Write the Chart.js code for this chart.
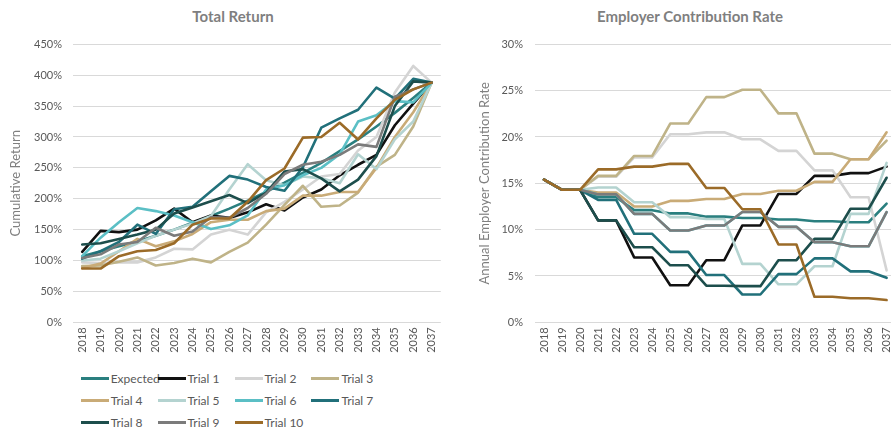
<!DOCTYPE html>
<html>
<head>
<meta charset="utf-8">
<script src="https://cdn.jsdelivr.net/npm/chart.js@4.4.1/dist/chart.umd.min.js"></script>
<style>
  body { margin: 0; width: 891px; height: 431px; overflow: hidden; background: #fff; position: relative; font-family: Lato, "Open Sans", sans-serif; }
  #leftBox { position: absolute; left: 0; top: 0; width: 450px; height: 365px; }
  #rightBox { position: absolute; left: 445px; top: 0; width: 460px; height: 365px; }
  .ttl { position: absolute; top: 7px; font-weight: bold; font-size: 15px; color: #7f7f7f; transform: translateX(-50%); white-space: nowrap; }
  .item { position: absolute; height: 16px; display: flex; align-items: center; font-size: 12px; color: #595959; white-space: nowrap; }
  .item .sw { display: inline-block; width: 28px; height: 3px; margin-right: 2px; }
</style>
</head>
<body>
<div class="ttl" style="left:233px">Total Return</div>
<div class="ttl" style="left:690px">Employer Contribution Rate</div>
<div id="leftBox"><canvas id="returnChart"></canvas></div>
<div id="rightBox"><canvas id="rateChart"></canvas></div>
<div id="legend"></div>
<script>
var years = ["2018","2019","2020","2021","2022","2023","2024","2025","2026","2027",
             "2028","2029","2030","2031","2032","2033","2034","2035","2036","2037"];
var seriesNames = ["Expected","Trial 1","Trial 2","Trial 3","Trial 4","Trial 5",
                   "Trial 6","Trial 7","Trial 8","Trial 9","Trial 10"];
var seriesColors = ["#2a7f7f","#111111","#d4d4d4","#bfb388","#c9ab77","#b4d3d0",
                    "#5bbfc5","#21707a","#1d4e4c","#7b7b7b","#9b6b28"];

// cumulative return, %
var expectedReturn = [107,115,123,131,140,150,161,172,184,197,211,226,242,258,277,296,317,339,363,388];
var trial1Return  = [114,148,146,150,165,184,162,173,169,178,191,181,202,215,238,255,271,319,354,388];
var trial2Return  = [97,96,97,97,105,119,118,142,150,142,178,195,215,236,240,278,300,372,415,388];
var trial3Return  = [91,92,98,105,92,96,103,97,114,129,158,190,221,187,189,210,252,271,317,388];
var trial4Return  = [88,95,115,135,123,131,143,162,166,166,180,184,205,205,211,211,250,300,340,388];
var trial5Return  = [100,103,115,128,140,150,160,172,215,256,230,222,236,233,225,272,248,296,325,388];
var trial6Return  = [107,137,162,185,180,173,162,151,157,173,215,222,238,250,272,325,335,358,356,388];
var trial7Return  = [103,115,130,158,143,183,187,212,237,231,219,213,251,315,330,344,380,362,394,388];
var trial8Return  = [126,128,135,142,150,176,186,196,206,193,210,244,248,233,212,231,269,350,390,388];
var trial9Return  = [104,110,126,130,153,140,147,170,169,185,208,240,255,260,271,288,284,365,377,388];
var trial10Return = [87,87,107,115,117,128,158,168,168,195,230,249,299,300,323,296,330,360,377,388];

// annual employer contribution rate, %
var expectedRate = [15.4,14.3,14.3,13.5,13.5,12.1,12.1,11.75,11.75,11.4,11.4,11.25,11.25,11.1,11.1,10.9,10.9,10.8,10.8,12.8];
var trial1Rate  = [15.4,14.3,14.3,11.0,11.0,7.0,7.0,4.0,4.0,6.7,6.7,10.45,10.45,13.85,13.85,15.8,15.8,16.1,16.1,16.8];
var trial2Rate  = [15.4,14.3,14.3,15.7,15.7,17.8,17.8,20.3,20.3,20.5,20.5,19.75,19.75,18.5,18.5,16.4,16.4,13.5,13.5,5.6];
var trial3Rate  = [15.4,14.3,14.3,15.8,15.8,17.95,17.95,21.45,21.45,24.3,24.3,25.1,25.1,22.55,22.55,18.2,18.2,17.6,17.6,19.6];
var trial4Rate  = [15.4,14.3,14.3,14.0,14.0,12.5,12.5,13.1,13.1,13.3,13.3,13.85,13.85,14.2,14.2,15.15,15.15,17.6,17.6,20.5];
var trial5Rate  = [15.4,14.3,14.3,14.55,14.55,12.95,12.95,11.35,11.35,11.15,11.15,6.3,6.3,4.1,4.1,6.05,6.05,11.7,11.7,17.2];
var trial6Rate  = [15.4,14.3,14.3,13.8,13.8,11.7,11.7,9.9,9.9,10.45,10.45,11.9,11.9,10.3,10.3,8.65,8.65,8.2,8.2,11.9];
var trial7Rate  = [15.4,14.3,14.3,13.2,13.2,9.55,9.55,7.6,7.6,5.1,5.1,3.0,3.0,5.2,5.2,6.9,6.9,5.5,5.5,4.8];
var trial8Rate  = [15.4,14.3,14.3,11.0,11.0,8.1,8.1,6.15,6.15,3.95,3.95,3.9,3.9,6.7,6.7,9.0,9.0,12.25,12.25,15.6];
var trial9Rate  = [15.4,14.3,14.3,13.8,13.8,11.7,11.7,9.9,9.9,10.45,10.45,11.9,11.9,10.3,10.3,8.65,8.65,8.2,8.2,11.9];
var trial10Rate = [15.4,14.3,14.3,16.5,16.5,16.8,16.8,17.1,17.1,14.5,14.5,12.2,12.2,8.4,8.4,2.75,2.75,2.6,2.6,2.4];

var returnTicks = [0,50,100,150,200,250,300,350,400,450];
var rateTicks = [0,5,10,15,20,25,30];

var returnSeries = [expectedReturn,trial1Return,trial2Return,trial3Return,trial4Return,trial5Return,
                    trial6Return,trial7Return,trial8Return,trial9Return,trial10Return];
var rateSeries = [expectedRate,trial1Rate,trial2Rate,trial3Rate,trial4Rate,trial5Rate,
                  trial6Rate,trial7Rate,trial8Rate,trial9Rate,trial10Rate];

Chart.defaults.font.family = "Lato, 'Open Sans', sans-serif";
Chart.defaults.animation = false;

function buildSets(series) {
    return series.map(function(d, i) {
        return {
            label: seriesNames[i],
            data: d,
            borderColor: seriesColors[i],
            backgroundColor: seriesColors[i],
            borderWidth: 2.6,
            pointRadius: 0,
            borderJoinStyle: "round",
            borderCapStyle: "round",
            fill: false,
            order: 20 - i   // later series on top, like the original
        };
    });
}

function makeChart(id, series, ticks, yTitle, axisW, tickPad, titlePad, padRight) {
    var top = ticks[ticks.length - 1];
    return new Chart(document.getElementById(id), {
        type: "line",
        data: { labels: years, datasets: buildSets(series) },
        options: {
            responsive: true,
            maintainAspectRatio: false,
            devicePixelRatio: 1,
            layout: { padding: { top: 44.3, right: padRight, bottom: 0, left: 0 } },
            plugins: { legend: { display: false }, tooltip: { enabled: false }, title: { display: false } },
            scales: {
                x: {
                    offset: true,
                    grid: { display: false, drawTicks: false },
                    border: { display: false },
                    ticks: { autoSkip: false, maxRotation: 90, minRotation: 90, padding: 5,
                             color: "#595959", font: { size: 11 } },
                    afterFit: function(s) { s.height = 42.7; }
                },
                y: {
                    min: 0, max: top,
                    afterBuildTicks: function(s) { s.ticks = ticks.map(function(v) { return { value: v }; }); },
                    grid: { color: "#d9d9d9", lineWidth: 1, drawTicks: false },
                    border: { display: false },
                    ticks: { padding: tickPad, color: "#595959", font: { size: 11 },
                             callback: function(v) { return v + "%"; } },
                    title: { display: true, text: yTitle, color: "#7f7f7f", font: { size: 13 }, padding: titlePad },
                    afterFit: function(s) { s.width = axisW; }
                }
            }
        }
    });
}

makeChart("returnChart", returnSeries, returnTicks, "Cumulative Return", 73, 11, 8, 7);
makeChart("rateChart", rateSeries, rateTicks, "Annual Employer Contribution Rate", 90, 12, 32, 8);

// legend under the left chart, 4 columns
var legend = document.getElementById("legend");
seriesNames.forEach(function(name, i) {
    var col = i % 4, row = Math.floor(i / 4);
    var el = document.createElement("div");
    el.className = "item";
    el.style.left = (80.7 + 76.9 * col) + "px";
    el.style.top = (370 + 22 * row) + "px";
    el.innerHTML = '<span class="sw" style="background:' + seriesColors[i] + '"></span>' + name;
    legend.appendChild(el);
});
</script>
</body>
</html>
